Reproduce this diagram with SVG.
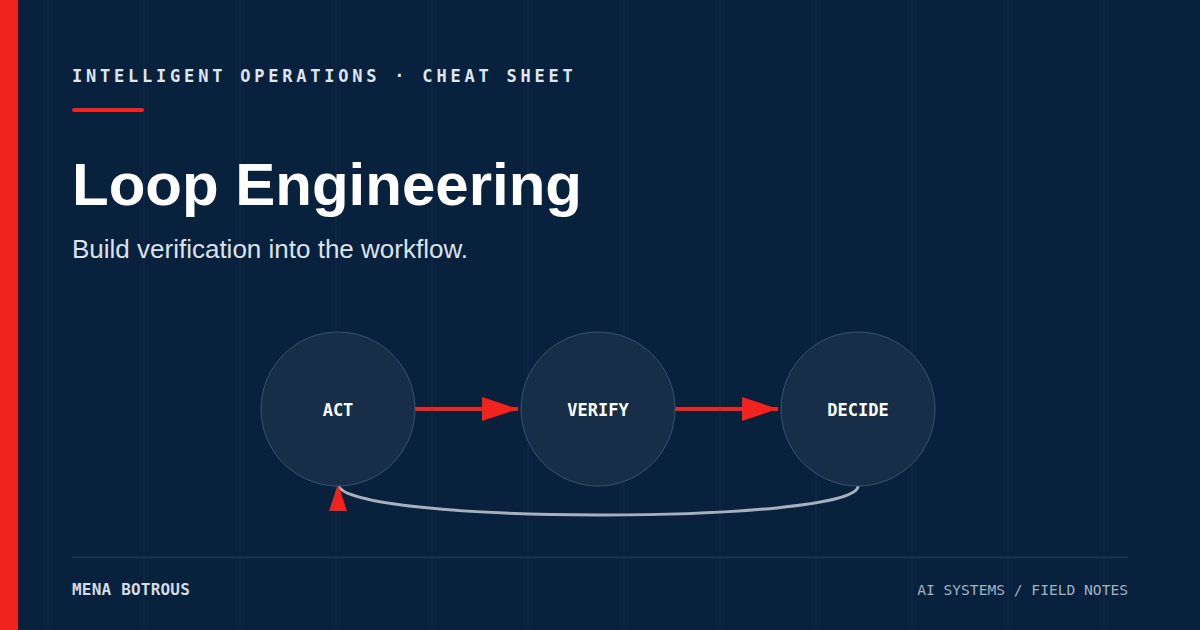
<svg xmlns="http://www.w3.org/2000/svg" width="1200" height="630" viewBox="0 0 1200 630">
  <style>
    .grid { stroke: #10294a; stroke-width: 1.5; }
    .mono { font-family: "DejaVu Sans Mono", "Liberation Mono", monospace; }
    .sans { font-family: "Liberation Sans", Arial, sans-serif; }
    .node circle { fill: #172e48; stroke: #3a5370; stroke-width: 1; }
    .node text { font-family: "DejaVu Sans Mono", "Liberation Mono", monospace; font-weight: bold; font-size: 17px; fill: #ffffff; text-anchor: middle; }
    .flow { stroke: #f0231f; stroke-width: 4; fill: none; }
    .back { stroke: #a6b1bf; stroke-width: 3; fill: none; }
  </style>
  <defs>
    <marker id="arrow" markerWidth="9" markerHeight="6" refX="9" refY="3" orient="auto" markerUnits="strokeWidth">
      <path d="M0,0 L9,3 L0,6 Z" fill="#f0231f"/>
    </marker>
  </defs>
  <rect width="1200" height="630" fill="#08213c"/>
  <g id="grid">
    <line class="grid" x1="48" y1="0" x2="48" y2="630"/>
    <line class="grid" x1="144" y1="0" x2="144" y2="630"/>
    <line class="grid" x1="240" y1="0" x2="240" y2="630"/>
    <line class="grid" x1="336" y1="0" x2="336" y2="630"/>
    <line class="grid" x1="432" y1="0" x2="432" y2="630"/>
    <line class="grid" x1="528" y1="0" x2="528" y2="630"/>
    <line class="grid" x1="624" y1="0" x2="624" y2="630"/>
    <line class="grid" x1="720" y1="0" x2="720" y2="630"/>
    <line class="grid" x1="816" y1="0" x2="816" y2="630"/>
    <line class="grid" x1="912" y1="0" x2="912" y2="630"/>
    <line class="grid" x1="1008" y1="0" x2="1008" y2="630"/>
    <line class="grid" x1="1104" y1="0" x2="1104" y2="630"/>
  </g>
  <rect x="0" y="0" width="18" height="630" fill="#f0231f"/>
  <text class="mono" x="72" y="82" font-size="17" font-weight="bold" letter-spacing="3.78" fill="#dfe5ec">INTELLIGENT OPERATIONS · CHEAT SHEET</text>
  <line x1="74" y1="110" x2="142" y2="110" stroke="#f0231f" stroke-width="4" stroke-linecap="round"/>
  <text class="sans" x="72" y="205" font-size="60" font-weight="bold" fill="#ffffff">Loop Engineering</text>
  <text class="sans" x="72" y="258" font-size="26" fill="#dbe2ea">Build verification into the workflow.</text>

  <g id="connectors">
    <line class="flow" x1="415" y1="409" x2="518" y2="409" marker-end="url(#arrow)"/>
    <line class="flow" x1="675" y1="409" x2="778" y2="409" marker-end="url(#arrow)"/>
    <path class="back" d="M858 486 C858 525 338 525 338 484" marker-end="url(#arrow)"/>
  </g>

  <g id="node-act" class="node">
    <circle cx="338" cy="409" r="77"/>
    <text x="338" y="416">ACT</text>
  </g>
  <g id="node-verify" class="node">
    <circle cx="598" cy="409" r="77"/>
    <text x="598" y="416">VERIFY</text>
  </g>
  <g id="node-decide" class="node">
    <circle cx="858" cy="409" r="77"/>
    <text x="858" y="416">DECIDE</text>
  </g>

  <line x1="72" y1="557.5" x2="1128" y2="557.5" stroke="#1e3954" stroke-width="1.5"/>
  <text class="mono" x="72" y="595" font-size="16" font-weight="bold" letter-spacing="0.2" fill="#d3dbe4">MENA BOTROUS</text>
  <text class="mono" x="1128" y="595" font-size="14.6" text-anchor="end" fill="#a3b2c3">AI SYSTEMS / FIELD NOTES</text>
</svg>
